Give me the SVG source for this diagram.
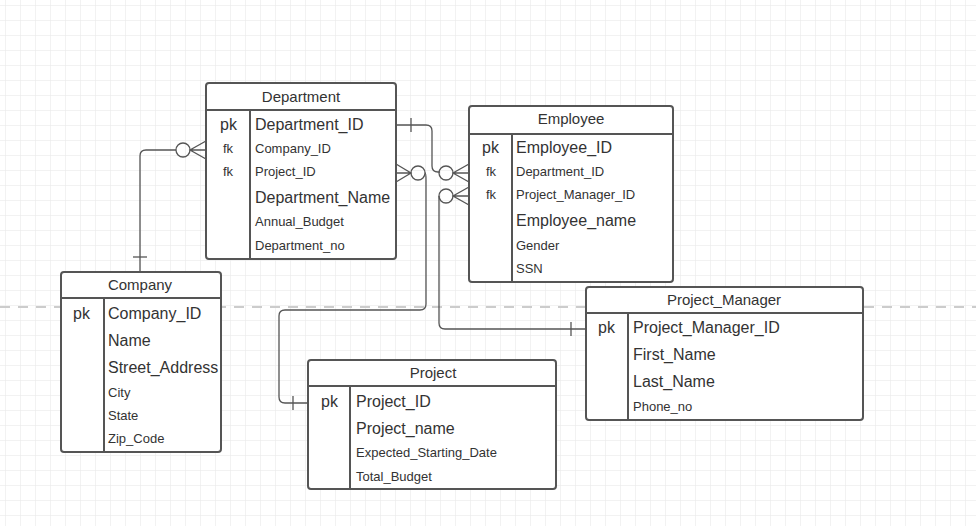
<svg xmlns="http://www.w3.org/2000/svg" width="976" height="526" viewBox="0 0 976 526">
<defs>
<pattern id="g" width="15" height="15" patternUnits="userSpaceOnUse" x="5" y="5"><path d="M15 0H0V15" fill="none" stroke="#e6e6e6" stroke-width="1"/></pattern>
<style>
.t{fill:#fff;stroke:#555;stroke-width:2}
.l{stroke:#555;stroke-width:2;fill:none}
.c{stroke:#555;stroke-width:1.3;fill:none}
text{font-family:"Liberation Sans",Arial,sans-serif;fill:#333}
.h{font-size:15px;text-anchor:middle}
.b{font-size:16px}
.s{font-size:13px}
</style>
</defs>
<rect width="976" height="526" fill="#fff"/>
<rect width="976" height="526" fill="url(#g)"/>
<line x1="0" y1="307" x2="976" y2="307" stroke="#ccc" stroke-width="2" stroke-dasharray="10,8"/>
<g id="connectors">
<path class="c" d="M396 125H426Q432 125 432 131V166Q432 172 438 172H440"/><line class="c" x1="411" y1="118" x2="411" y2="132"/><circle class="c" cx="446" cy="173" r="7" fill="#fff"/><path class="c" d="M469 164L453 173L469 182M453 173H469"/>
<path class="c" d="M140 272V156Q140 150 146 150H176"/><line class="c" x1="133" y1="257" x2="147" y2="257"/><circle class="c" cx="183" cy="150" r="7" fill="#fff"/><path class="c" d="M206 141L190 150L206 159M190 150H206"/>
<path class="c" d="M396 164L411 173L396 182M396 173H411"/><circle class="c" cx="418" cy="173" r="7" fill="#fff"/><path class="c" d="M425 173Q426 173 426 180V304Q426 310 420 310H285Q279 310 279 316V397Q279 403 285 403H308"/><line class="c" x1="293" y1="396" x2="293" y2="410"/>
<path class="c" d="M469 187L453 196L469 205M453 196H469"/><circle class="c" cx="446" cy="196" r="7" fill="#fff"/><path class="c" d="M439 196V323Q439 329 445 329H586"/><line class="c" x1="571" y1="322" x2="571" y2="336"/>
</g>
<g id="Department">
<rect class="t" x="206" y="83" width="190" height="176" rx="3"/><line class="l" x1="206" y1="110" x2="396" y2="110"/><line class="l" x1="250" y1="110" x2="250" y2="259"/>
<text class="h" x="301" y="102">Department</text>
<text class="b" x="220" y="130">pk</text><text class="s" x="223" y="153">fk</text><text class="s" x="223" y="176">fk</text>
<text class="b" x="255" y="130">Department_ID</text><text class="s" x="255" y="153">Company_ID</text><text class="s" x="255" y="176">Project_ID</text><text class="b" x="255" y="203">Department_Name</text><text class="s" x="255" y="226">Annual_Budget</text><text class="s" x="255" y="250">Department_no</text>
</g>
<g id="Employee">
<rect class="t" x="469" y="106" width="204" height="176" rx="3"/><line class="l" x1="469" y1="134" x2="673" y2="134"/><line class="l" x1="512" y1="134" x2="512" y2="282"/>
<text class="h" x="571" y="124">Employee</text>
<text class="b" x="482" y="153">pk</text><text class="s" x="486" y="176">fk</text><text class="s" x="486" y="199">fk</text>
<text class="b" x="516" y="153">Employee_ID</text><text class="s" x="516" y="176">Department_ID</text><text class="s" x="516" y="199">Project_Manager_ID</text><text class="b" x="516" y="226">Employee_name</text><text class="s" x="516" y="250">Gender</text><text class="s" x="516" y="273">SSN</text>
</g>
<g id="Company">
<rect class="t" x="61" y="272" width="160" height="180" rx="3"/><line class="l" x1="61" y1="298" x2="221" y2="298"/><line class="l" x1="104" y1="298" x2="104" y2="452"/>
<text class="h" x="140" y="290">Company</text>
<text class="b" x="73" y="319">pk</text>
<text class="b" x="108" y="319">Company_ID</text><text class="b" x="108" y="346">Name</text><text class="b" x="108" y="373">Street_Address</text><text class="s" x="108" y="397">City</text><text class="s" x="108" y="420">State</text><text class="s" x="108" y="443">Zip_Code</text>
</g>
<g id="Project_Manager">
<rect class="t" x="586" y="287" width="277" height="133" rx="3"/><line class="l" x1="586" y1="313" x2="863" y2="313"/><line class="l" x1="628" y1="313" x2="628" y2="420"/>
<text class="h" x="724" y="305">Project_Manager</text>
<text class="b" x="598" y="333">pk</text>
<text class="b" x="633" y="333">Project_Manager_ID</text><text class="b" x="633" y="360">First_Name</text><text class="b" x="633" y="387">Last_Name</text><text class="s" x="633" y="411">Phone_no</text>
</g>
<g id="Project">
<rect class="t" x="308" y="360" width="248" height="129" rx="3"/><line class="l" x1="308" y1="386" x2="556" y2="386"/><line class="l" x1="350" y1="386" x2="350" y2="489"/>
<text class="h" x="433" y="378">Project</text>
<text class="b" x="321" y="407">pk</text>
<text class="b" x="356" y="407">Project_ID</text><text class="b" x="356" y="434">Project_name</text><text class="s" x="356" y="457">Expected_Starting_Date</text><text class="s" x="356" y="481">Total_Budget</text>
</g>
</svg>
